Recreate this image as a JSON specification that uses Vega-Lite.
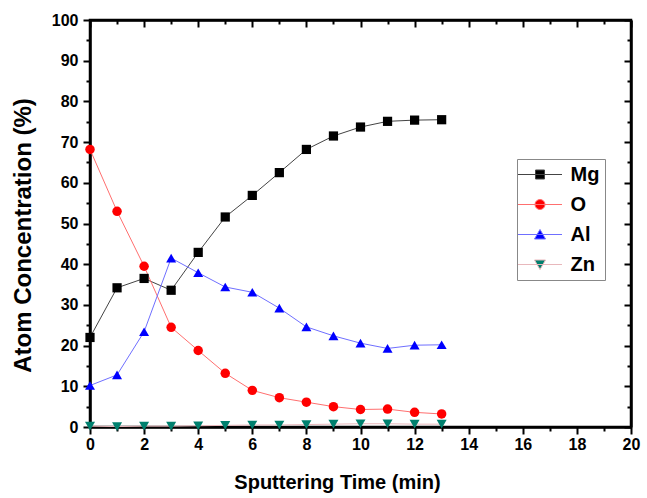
{
  "$schema": "https://vega.github.io/schema/vega-lite/v6.json",
  "width": 541,
  "height": 407,
  "autosize": {"type": "none"},
  "padding": {"left": 90, "top": 20, "right": 16, "bottom": 71},
  "background": "white",
  "config": {"view": {"stroke": "black", "strokeWidth": 2.5}, "font": "Liberation Sans"},
  "data": {"values": [
    {"t": 0, "v": 22.0, "el": "Mg"}, {"t": 1, "v": 34.2, "el": "Mg"}, {"t": 2, "v": 36.5, "el": "Mg"}, {"t": 3, "v": 33.6, "el": "Mg"}, {"t": 4, "v": 42.9, "el": "Mg"}, {"t": 5, "v": 51.6, "el": "Mg"}, {"t": 6, "v": 56.9, "el": "Mg"}, {"t": 7, "v": 62.5, "el": "Mg"}, {"t": 8, "v": 68.2, "el": "Mg"}, {"t": 9, "v": 71.5, "el": "Mg"}, {"t": 10, "v": 73.7, "el": "Mg"}, {"t": 11, "v": 75.1, "el": "Mg"}, {"t": 12, "v": 75.4, "el": "Mg"}, {"t": 13, "v": 75.5, "el": "Mg"},
    {"t": 0, "v": 68.2, "el": "O"}, {"t": 1, "v": 53.0, "el": "O"}, {"t": 2, "v": 39.5, "el": "O"}, {"t": 3, "v": 24.5, "el": "O"}, {"t": 4, "v": 18.8, "el": "O"}, {"t": 5, "v": 13.2, "el": "O"}, {"t": 6, "v": 9.0, "el": "O"}, {"t": 7, "v": 7.2, "el": "O"}, {"t": 8, "v": 6.1, "el": "O"}, {"t": 9, "v": 5.0, "el": "O"}, {"t": 10, "v": 4.3, "el": "O"}, {"t": 11, "v": 4.4, "el": "O"}, {"t": 12, "v": 3.6, "el": "O"}, {"t": 13, "v": 3.2, "el": "O"},
    {"t": 0, "v": 10.2, "el": "Al"}, {"t": 1, "v": 12.8, "el": "Al"}, {"t": 2, "v": 23.4, "el": "Al"}, {"t": 3, "v": 41.5, "el": "Al"}, {"t": 4, "v": 37.9, "el": "Al"}, {"t": 5, "v": 34.4, "el": "Al"}, {"t": 6, "v": 33.1, "el": "Al"}, {"t": 7, "v": 29.2, "el": "Al"}, {"t": 8, "v": 24.6, "el": "Al"}, {"t": 9, "v": 22.4, "el": "Al"}, {"t": 10, "v": 20.6, "el": "Al"}, {"t": 11, "v": 19.3, "el": "Al"}, {"t": 12, "v": 20.1, "el": "Al"}, {"t": 13, "v": 20.2, "el": "Al"},
    {"t": 0, "v": 0.2, "el": "Zn"}, {"t": 1, "v": 0.1, "el": "Zn"}, {"t": 2, "v": 0.2, "el": "Zn"}, {"t": 3, "v": 0.2, "el": "Zn"}, {"t": 4, "v": 0.3, "el": "Zn"}, {"t": 5, "v": 0.4, "el": "Zn"}, {"t": 6, "v": 0.5, "el": "Zn"}, {"t": 7, "v": 0.5, "el": "Zn"}, {"t": 8, "v": 0.6, "el": "Zn"}, {"t": 9, "v": 0.7, "el": "Zn"}, {"t": 10, "v": 0.8, "el": "Zn"}, {"t": 11, "v": 0.8, "el": "Zn"}, {"t": 12, "v": 0.7, "el": "Zn"}, {"t": 13, "v": 0.7, "el": "Zn"}
  ]},
  "layer": [
    {
      "mark": {"type": "line", "strokeWidth": 1},
      "encoding": {
        "x": {"field": "t", "type": "quantitative", "scale": {"domain": [0, 20], "nice": false, "zero": false},
          "axis": {"orient": "bottom", "values": [0,1,2,3,4,5,6,7,8,9,10,11,12,13,14,15,16,17,18,19,20],
            "labelExpr": "datum.value % 2 === 0 ? datum.label : ''",
            "title": "Sputtering Time (min)", "titleFont": "Liberation Sans", "titleFontSize": 20, "titleFontWeight": "bold", "titleColor": "black", "titlePadding": 20, "titleX": 247,
            "labelFont": "Liberation Sans", "labelFontSize": 16, "labelFontWeight": "bold", "labelColor": "black", "labelPadding": 2, "labelOverlap": false, "labelFlush": false,
            "domainColor": "black", "domainWidth": 2.5, "tickColor": "black", "tickWidth": 2,
            "tickSize": {"condition": {"test": "datum.value % 2 === 0", "value": 7}, "value": 4}, "grid": false}},
        "y": {"field": "v", "type": "quantitative", "scale": {"domain": [0, 100], "nice": false},
          "axis": {"orient": "left", "values": [0,5,10,15,20,25,30,35,40,45,50,55,60,65,70,75,80,85,90,95,100],
            "labelExpr": "datum.value % 10 === 0 ? datum.label : ''",
            "title": "Atom Concentration (%)", "titleFont": "Liberation Sans", "titleFontSize": 24, "titleFontWeight": "bold", "titleColor": "black", "titlePadding": 16, "titleY": 215,
            "labelFont": "Liberation Sans", "labelFontSize": 16, "labelFontWeight": "bold", "labelColor": "black", "labelPadding": 5, "labelOverlap": false, "labelFlush": false,
            "domainColor": "black", "domainWidth": 2.5, "tickColor": "black", "tickWidth": 2,
            "tickSize": {"condition": {"test": "datum.value % 10 === 0", "value": 7}, "value": 4}, "grid": false}},
        "stroke": {"field": "el", "type": "nominal", "scale": {"domain": ["Mg", "O", "Al", "Zn"], "range": ["#444444", "#ff6f6f", "#6f6fff", "#e8b8bc"]}},
        "detail": {"field": "el"}
      }
    },
    {
      "transform": [{"filter": "datum.el === 'Mg'"}],
      "mark": {"type": "point", "shape": "square", "filled": true, "color": "#000000", "opacity": 1, "size": 85},
      "encoding": {"x": {"field": "t", "type": "quantitative", "axis": null}, "y": {"field": "v", "type": "quantitative", "axis": null}}
    },
    {
      "transform": [{"filter": "datum.el === 'O'"}],
      "mark": {"type": "point", "shape": "circle", "filled": true, "color": "#ff0000", "opacity": 1, "size": 90},
      "encoding": {"x": {"field": "t", "type": "quantitative", "axis": null}, "y": {"field": "v", "type": "quantitative", "axis": null}}
    },
    {
      "transform": [{"filter": "datum.el === 'Al'"}],
      "mark": {"type": "point", "shape": "triangle-up", "filled": true, "color": "#0000ff", "opacity": 1, "size": 100},
      "encoding": {"x": {"field": "t", "type": "quantitative", "axis": null}, "y": {"field": "v", "type": "quantitative", "axis": null}}
    },
    {
      "transform": [{"filter": "datum.el === 'Zn'"}],
      "mark": {"type": "point", "shape": "triangle-down", "filled": true, "color": "#00806e", "opacity": 1, "size": 100},
      "encoding": {"x": {"field": "t", "type": "quantitative", "axis": null}, "y": {"field": "v", "type": "quantitative", "axis": null}}
    },
    {
      "mark": {"type": "point", "filled": true, "opacity": 0},
      "encoding": {
        "x": {"field": "t", "type": "quantitative",
          "axis": {"orient": "top", "values": [0,1,2,3,4,5,6,7,8,9,10,11,12,13,14,15,16,17,18,19,20], "labels": false, "title": null,
            "domainColor": "black", "domainWidth": 2.5, "tickColor": "black", "tickWidth": 2,
            "tickSize": {"condition": {"test": "datum.value % 2 === 0", "value": -7}, "value": -4}, "grid": false}},
        "y": {"field": "v", "type": "quantitative",
          "axis": {"orient": "right", "values": [0,5,10,15,20,25,30,35,40,45,50,55,60,65,70,75,80,85,90,95,100], "labels": false, "title": null,
            "domainColor": "black", "domainWidth": 2.5, "tickColor": "black", "tickWidth": 2,
            "tickSize": {"condition": {"test": "datum.value % 10 === 0", "value": -7}, "value": -4}, "grid": false}},
        "color": {"field": "el", "type": "nominal", "scale": {"domain": ["Mg", "O", "Al", "Zn"], "range": ["#000000", "#ff0000", "#0000ff", "#00806e"]},
          "legend": {"title": null, "orient": "none", "legendX": 427, "legendY": 139, "strokeColor": "#888888", "fillColor": "white", "padding": 5,
            "symbolSize": 400, "symbolOffset": 7.5, "labelOffset": 20, "rowPadding": 9, "labelFont": "Liberation Sans", "labelFontSize": 20, "labelFontWeight": "bold", "labelColor": "black",
            "symbolOpacity": 1, "symbolStrokeWidth": 1}},
        "shape": {"field": "el", "type": "nominal", "scale": {"domain": ["Mg", "O", "Al", "Zn"], "range": [
            "M-2.2,0H2.2M-0.45,-0.45H0.45V0.45H-0.45Z",
            "M-2.2,0H2.2M0.5,0A0.5,0.5,0,1,1,-0.5,0A0.5,0.5,0,1,1,0.5,0Z",
            "M-2.2,0H2.2M0,-0.5L0.55,0.45H-0.55Z",
            "M-2.2,0H2.2M0,0.5L0.55,-0.45H-0.55Z"]},
          "legend": {"title": null, "orient": "none", "legendX": 427, "legendY": 139, "strokeColor": "#888888", "fillColor": "white", "padding": 5,
            "symbolSize": 400, "symbolOffset": 7.5, "labelOffset": 20, "rowPadding": 9, "labelFont": "Liberation Sans", "labelFontSize": 20, "labelFontWeight": "bold", "labelColor": "black",
            "symbolOpacity": 1, "symbolStrokeWidth": 1}},
        "stroke": {"field": "el", "type": "nominal",
          "legend": {"title": null, "orient": "none", "legendX": 427, "legendY": 139, "strokeColor": "#888888", "fillColor": "white", "padding": 5,
            "symbolSize": 400, "symbolOffset": 7.5, "labelOffset": 20, "rowPadding": 9, "labelFont": "Liberation Sans", "labelFontSize": 20, "labelFontWeight": "bold", "labelColor": "black",
            "symbolOpacity": 1, "symbolStrokeWidth": 1}}
      }
    }
  ],
  "resolve": {"axis": {"x": "independent", "y": "independent"}}
}
